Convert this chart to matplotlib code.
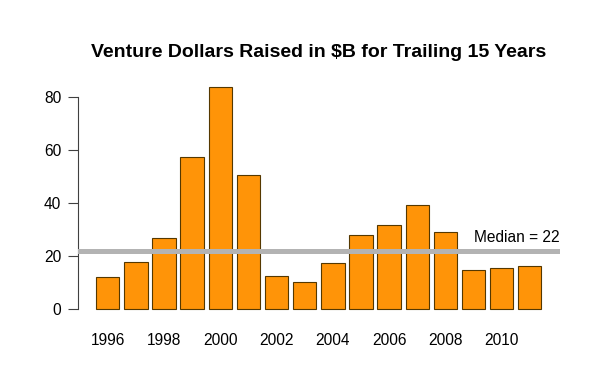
import matplotlib
matplotlib.use("Agg")
import matplotlib.pyplot as plt

years = list(range(1996, 2012))
values = [12.1, 17.6, 26.9, 57.4, 83.8, 50.6, 12.5, 10.1, 17.3, 28.0, 31.6, 39.3, 28.9, 14.5, 15.5, 16.2]
median_value = 22
yticks = [0, 20, 40, 60, 80]
title = "Venture Dollars Raised in $B for Trailing 15 Years"

plt.rcParams['font.family'] = ['Liberation Sans', 'DejaVu Sans']

fig = plt.figure(figsize=(6, 3.67), dpi=100)
ax = fig.add_axes([78.0 / 600, 1 - 317.5 / 367, (559.5 - 78.0) / 600, (317.5 - 78.5) / 367])

centers = [0.7 + 1.2 * i for i in range(len(years))]
ax.bar(centers, values, width=1.0, color='#FF9408', edgecolor='#553800', linewidth=0.8, zorder=2)
ax.axhline(median_value, color='#b3b3b3', linewidth=3.6, zorder=3)
ax.text(19.968, median_value + 2.0, f"Median = {median_value}", ha='right', va='bottom', fontsize=11.2, zorder=4)

ax.set_xlim(-0.568, 19.968)
ax.set_ylim(-3.35, 87.15)

for s in ['top', 'right', 'bottom']:
    ax.spines[s].set_visible(False)
ax.spines['left'].set_bounds(0, 80)
ax.spines['left'].set_color('#404040')
ax.spines['left'].set_linewidth(0.8)
ax.set_yticks(yticks)
ax.set_yticklabels([str(t) for t in yticks])
ax.tick_params(axis='y', length=7, width=0.8, color='#404040', labelsize=11.2, pad=5)

ax.set_xticks([centers[i] for i in range(0, len(years), 2)])
ax.set_xticklabels([str(years[i]) for i in range(0, len(years), 2)])
ax.tick_params(axis='x', length=0, labelsize=11.2, pad=11)

fig.text(318.5 / 600, 1 - 56.7 / 367, title, ha='center', va='baseline', fontsize=14, fontweight='bold')

fig.savefig("out.png", dpi=100)
